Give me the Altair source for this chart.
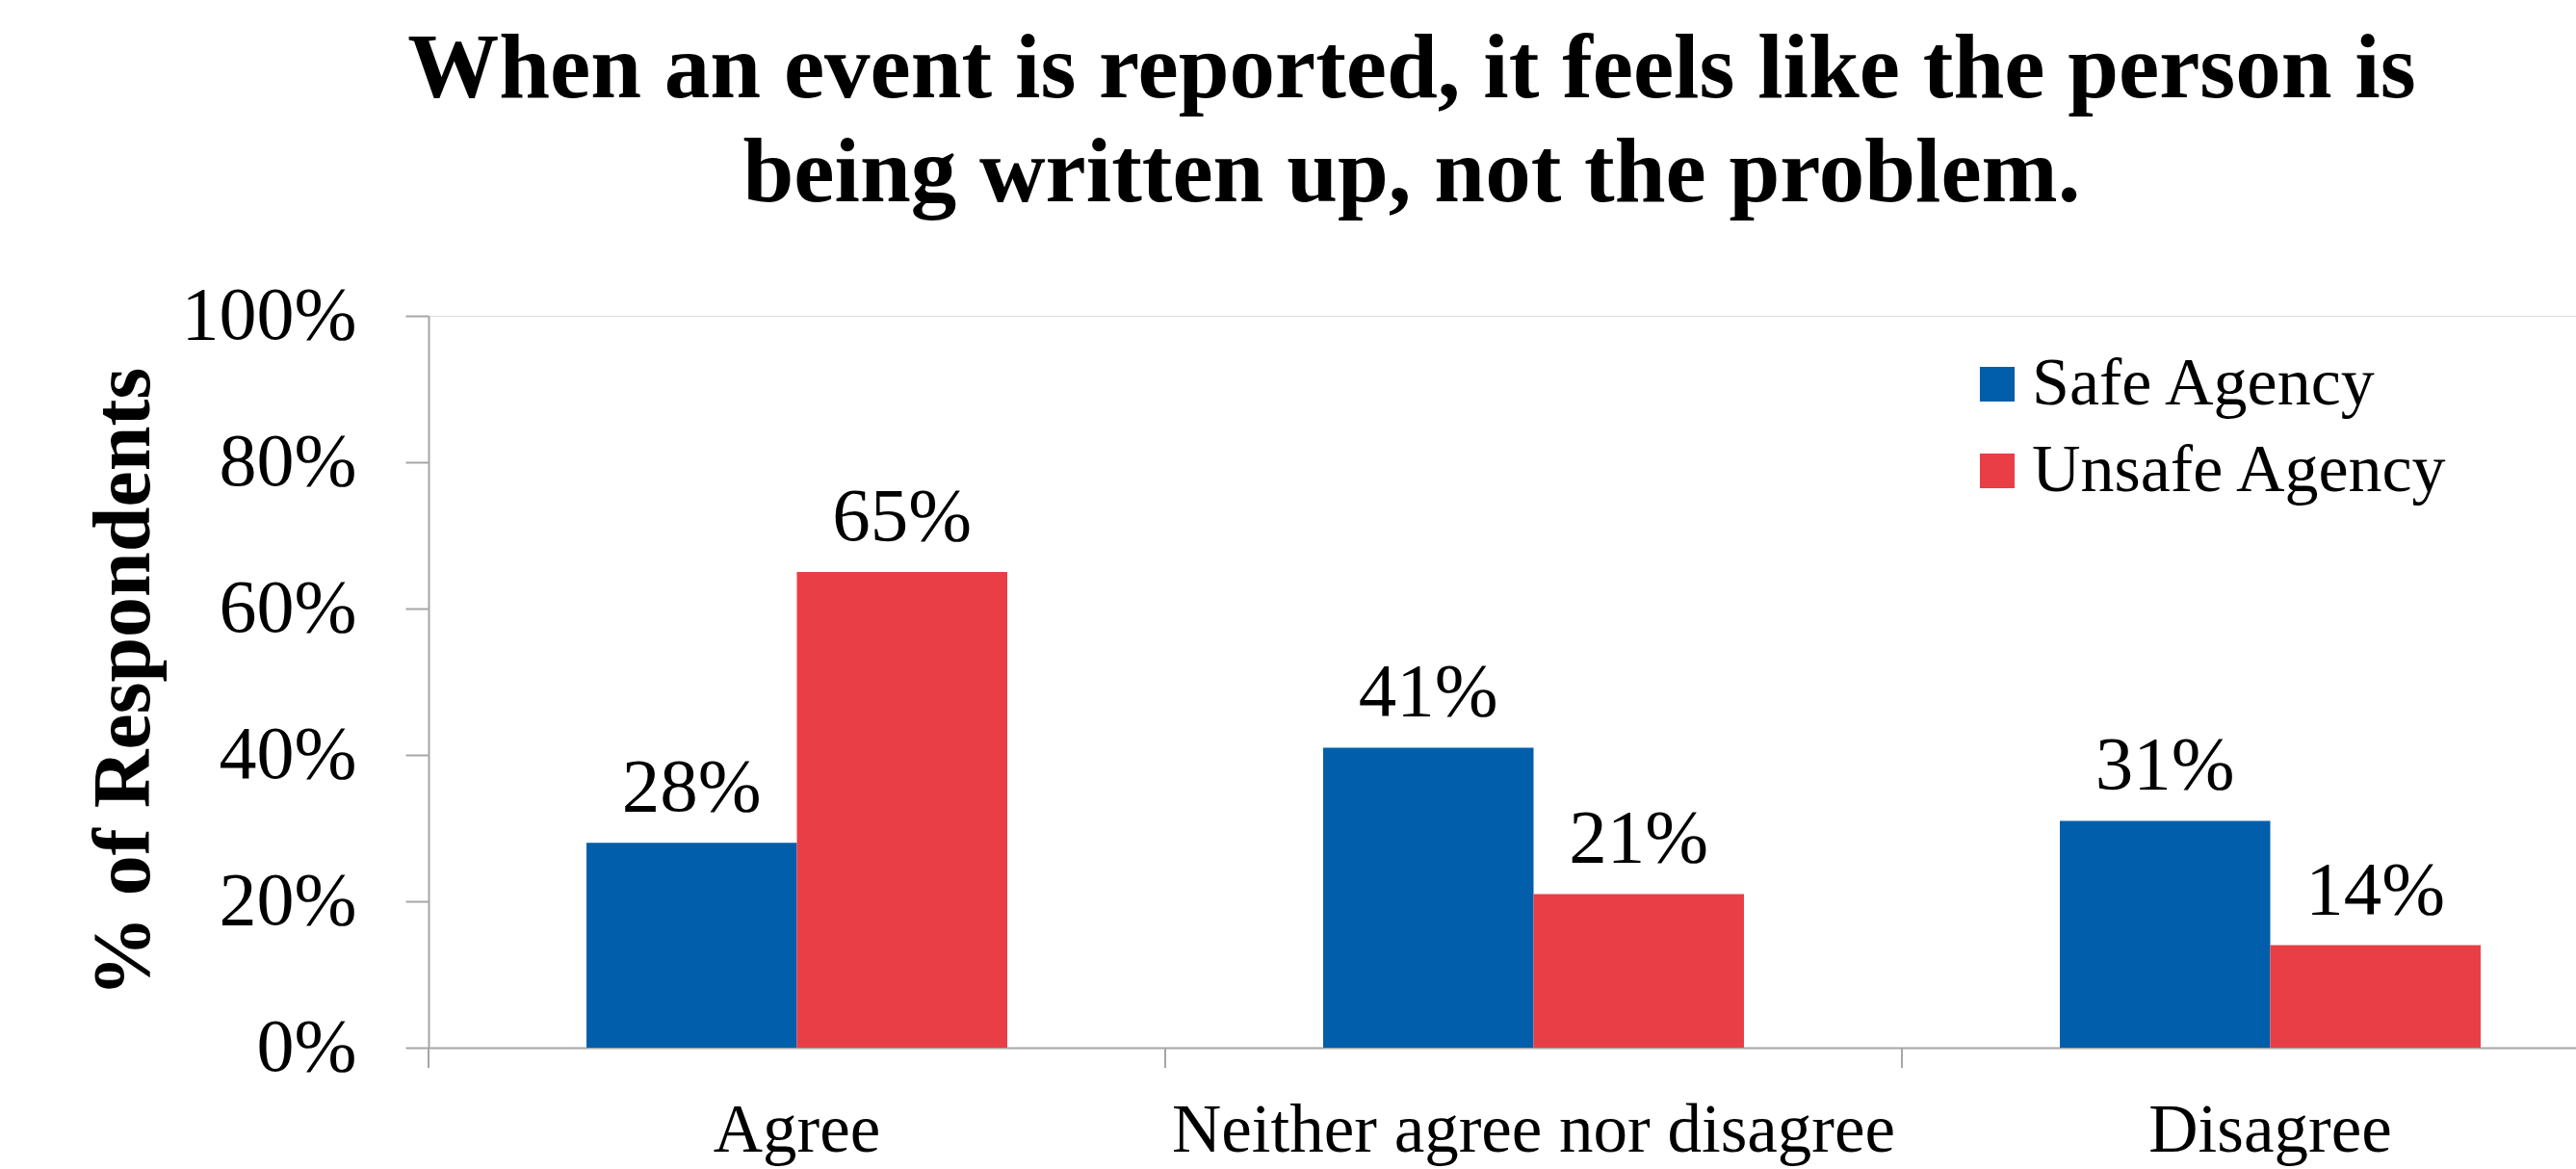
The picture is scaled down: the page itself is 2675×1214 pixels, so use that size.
import altair as alt
import pandas as pd

# Survey responses by agency group
categories = ["Agree", "Neither agree nor disagree", "Disagree"]
series = ["Safe Agency", "Unsafe Agency"]
safe_values = [0.28, 0.41, 0.31]
unsafe_values = [0.65, 0.21, 0.14]
y_ticks = [0, 0.2, 0.4, 0.6, 0.8, 1.0]

title_lines = [
    "When an event is reported, it feels like the person is",
    "being written up, not the problem.",
]
colors = ["#005EAA", "#E93E45"]
FONT = "Liberation Serif"
AXIS_GRAY = "#A6A6A6"

rows = []
for cat, s, u in zip(categories, safe_values, unsafe_values):
    rows.append({"category": cat, "group": series[0], "value": s})
    rows.append({"category": cat, "group": series[1], "value": u})
df = pd.DataFrame(rows)
ticks_df = pd.DataFrame({"category": categories})

W, H = 2230, 760
STEP = 765
P_INNER = 0.4288

x_scale = alt.Scale(domain=categories, range=[0, 3 * STEP],
                    paddingInner=P_INNER, paddingOuter=P_INNER / 2)
x_enc = alt.X(
    "category:N", scale=x_scale, sort=categories, title=None,
    axis=alt.Axis(labelAngle=0, labelFont=FONT, labelFontSize=71, labelColor="black",
                  labelPadding=51, labelLimit=0, ticks=False, tickSize=0,
                  domainColor=AXIS_GRAY, domainWidth=2, grid=False),
)
y_enc = alt.Y(
    "value:Q", scale=alt.Scale(domain=[0, 1], nice=False),
    axis=alt.Axis(values=y_ticks, format=".0%", title="% of Respondents",
                  titleFont=FONT, titleFontSize=84, titleFontWeight="bold",
                  titleColor="black", titlePadding=73,
                  labelFont=FONT, labelFontSize=78, labelColor="black",
                  labelPadding=51, labelLimit=0, tickSize=24, tickColor=AXIS_GRAY,
                  tickWidth=2, domainColor=AXIS_GRAY, domainWidth=2, grid=False),
)
xo_enc = alt.XOffset("group:N", sort=series,
                     scale=alt.Scale(domain=series, paddingInner=0, paddingOuter=0))

bars = alt.Chart(df).mark_bar().encode(
    x=x_enc,
    xOffset=xo_enc,
    y=y_enc,
    color=alt.Color(
        "group:N", sort=series, scale=alt.Scale(domain=series, range=colors),
        legend=alt.Legend(title=None, orient="none", legendX=1594, legendY=36,
                          labelFont=FONT, labelFontSize=70, labelColor="black",
                          labelLimit=0, symbolType="square", symbolSize=1300,
                          symbolStrokeWidth=0, labelOffset=1, rowPadding=20,
                          padding=0),
    ),
)

labels = alt.Chart(df).mark_text(
    font=FONT, fontSize=79, color="black", baseline="alphabetic", dy=-33
).encode(
    x=alt.X("category:N", scale=x_scale, sort=categories),
    xOffset=xo_enc,
    y=alt.Y("value:Q"),
    text=alt.Text("value:Q", format=".0%"),
)

# category separators below the x axis
sep_ticks = alt.Chart(ticks_df).mark_rule(
    color=AXIS_GRAY, strokeWidth=2, xOffset=-STEP / 2
).encode(
    x=alt.X("category:N", scale=x_scale, sort=categories),
    y=alt.value(H),
    y2=alt.value(H + 21),
)

chart = alt.layer(bars, labels, sep_ticks).properties(
    width=W,
    height=H,
    title=alt.TitleParams(
        text=title_lines, font=FONT, fontSize=95, fontWeight="bold", color="black",
        lineHeight=108, anchor="middle", frame="group", dx=-94, offset=60,
    ),
    autosize=alt.AutoSizeParams(type="none"),
    padding={"left": 445, "top": 328, "right": 0, "bottom": 126},
).configure_view(stroke=None).configure(background="white")

chart.save("out.html", embed_options={"renderer": "svg", "actions": False})
